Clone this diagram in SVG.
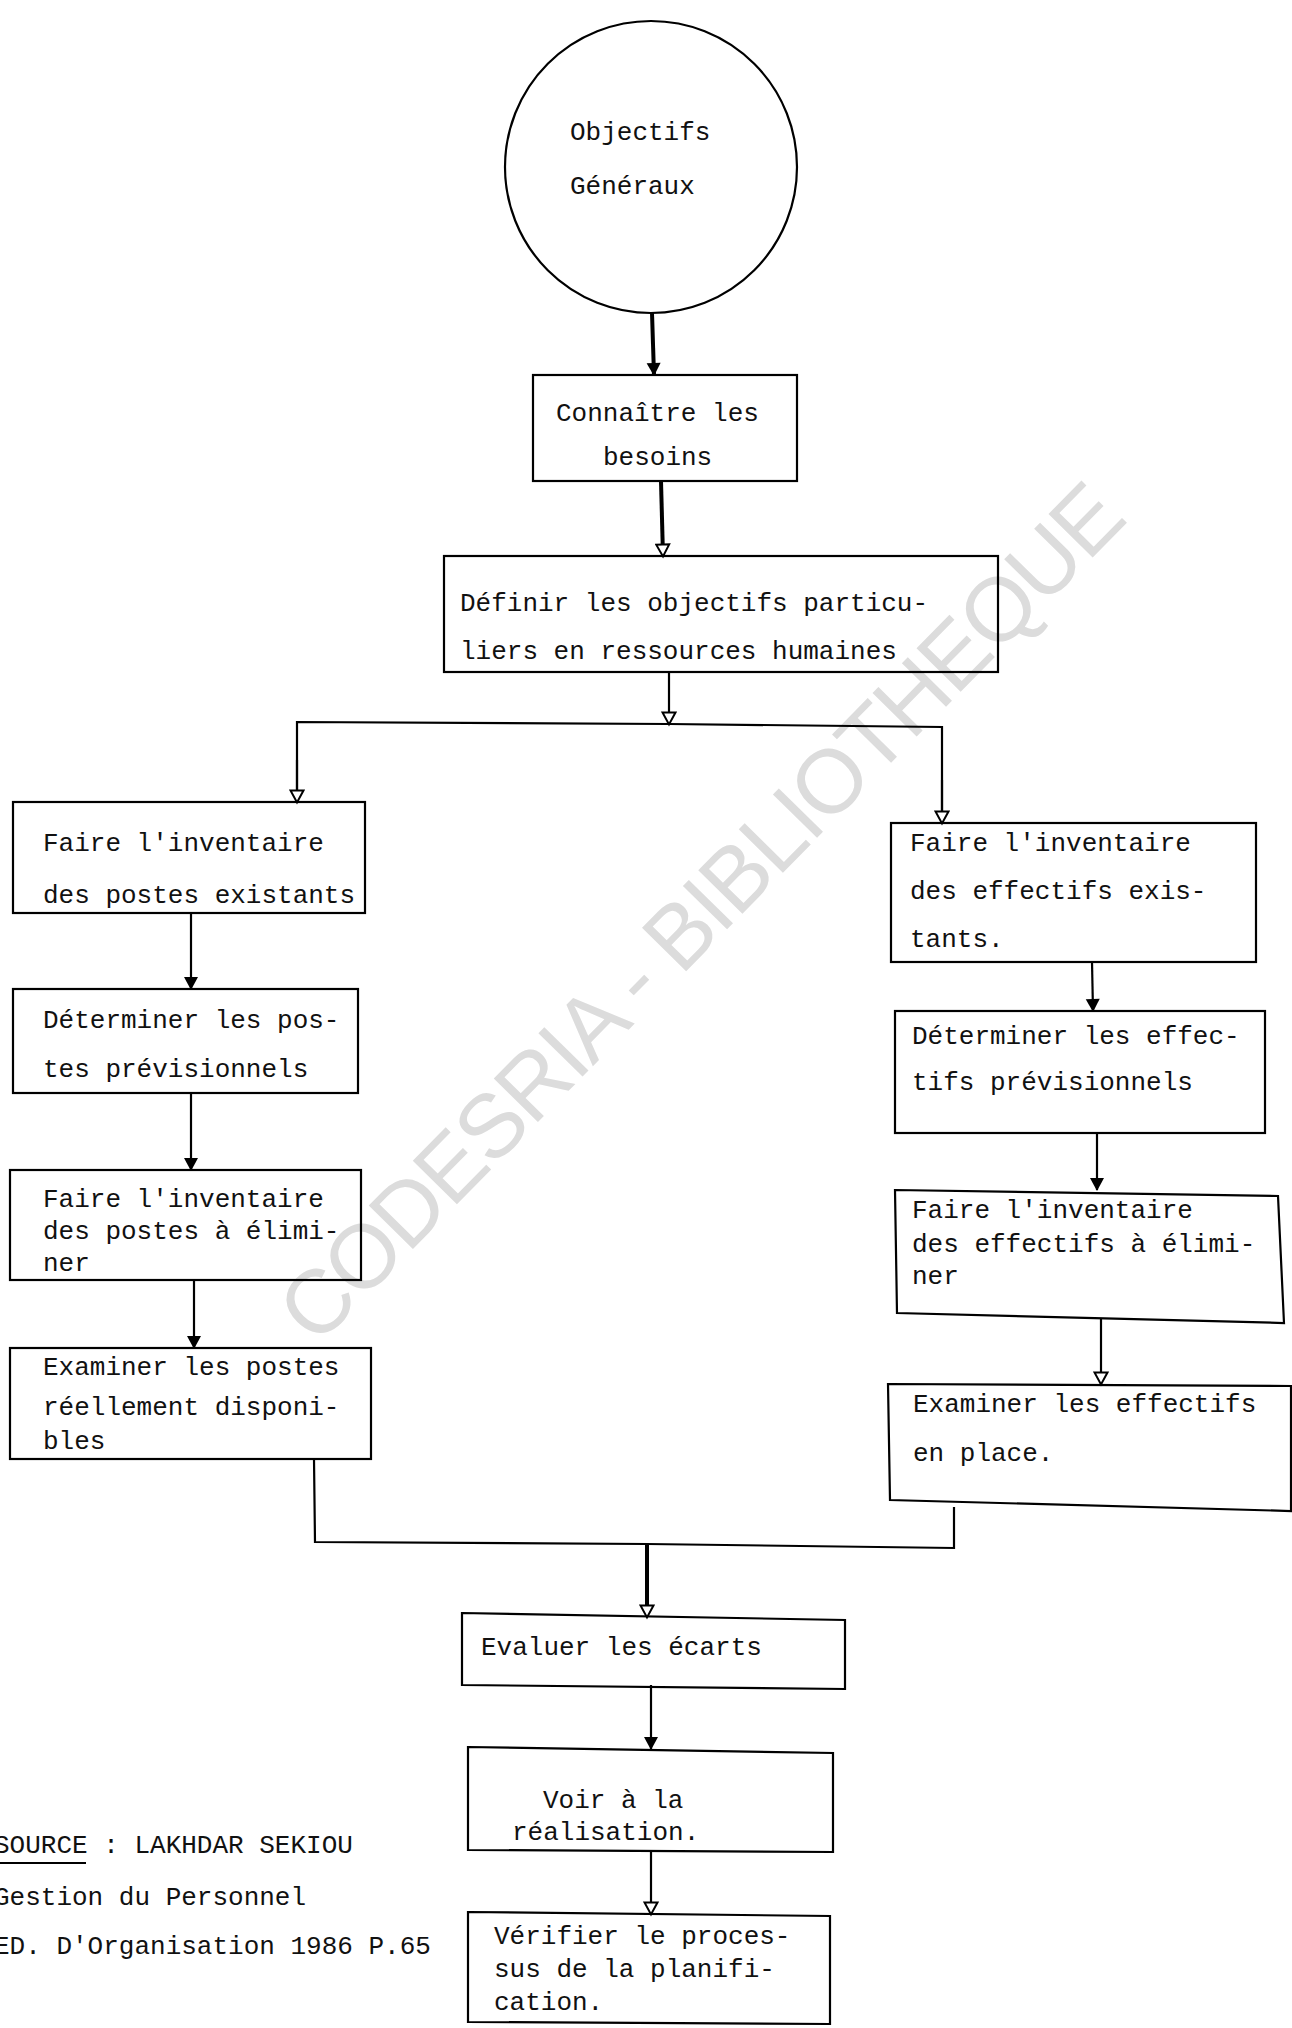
<svg xmlns="http://www.w3.org/2000/svg" width="1292" height="2028" viewBox="0 0 1292 2028">
<style>
.bx{fill:none;stroke:#000;stroke-width:2.2;stroke-linejoin:miter}
.t{font-family:"Liberation Mono","DejaVu Sans Mono",monospace;font-size:26px;fill:#111}
.c{fill:none;stroke:#000;stroke-width:2.2}
.ck{fill:none;stroke:#000;stroke-width:4}
.wm{font-family:"Liberation Sans",Arial,sans-serif;font-size:90px;fill:#dcdcdc}
</style>
<defs>
<marker id="af" markerUnits="userSpaceOnUse" markerWidth="16" markerHeight="16" refX="13" refY="8" orient="auto" viewBox="0 0 16 16">
<path d="M1,1 L14,8 L1,15 z" fill="#000"/>
</marker>
<marker id="ao" markerUnits="userSpaceOnUse" markerWidth="16" markerHeight="16" refX="13" refY="8" orient="auto" viewBox="0 0 16 16">
<path d="M1.5,1.5 L13.5,8 L1.5,14.5 z" fill="#fff" stroke="#000" stroke-width="2"/>
</marker>
</defs>
<rect width="1292" height="2028" fill="#fff"/>
<text class="wm" x="706" y="917" text-anchor="middle" dominant-baseline="middle" transform="rotate(-45.5 706 917)" textLength="1160" lengthAdjust="spacing">CODESRIA - BIBLIOTHEQUE</text>

<g id="connectors">
<line class="ck" x1="652" y1="313" x2="654" y2="375" marker-end="url(#af)"/>
<line class="ck" x1="661" y1="481" x2="663" y2="556" marker-end="url(#ao)"/>
<line class="c" x1="669" y1="672" x2="669" y2="724" marker-end="url(#ao)"/>
<polyline class="c" points="297,802 297,722 669,724 942,727 942,823"/>
<line class="c" x1="297" y1="760" x2="297" y2="802" marker-end="url(#ao)"/>
<line class="c" x1="942" y1="780" x2="942" y2="823" marker-end="url(#ao)"/>
<line class="c" x1="191" y1="913" x2="191" y2="989" marker-end="url(#af)"/>
<line class="c" x1="191" y1="1093" x2="191" y2="1170" marker-end="url(#af)"/>
<line class="c" x1="194" y1="1280" x2="194" y2="1348" marker-end="url(#af)"/>
<line class="c" x1="1092" y1="962" x2="1093" y2="1011" marker-end="url(#af)"/>
<line class="c" x1="1097" y1="1133" x2="1097" y2="1190" marker-end="url(#af)"/>
<line class="c" x1="1101" y1="1318" x2="1101" y2="1384" marker-end="url(#ao)"/>
<polyline class="c" points="314,1459 315,1542 647,1544 954,1548 954,1507"/>
<line class="ck" x1="647" y1="1544" x2="647" y2="1617" marker-end="url(#ao)"/>
<line class="c" x1="651" y1="1685" x2="651" y2="1749" marker-end="url(#af)"/>
<line class="c" x1="651" y1="1852" x2="651" y2="1914" marker-end="url(#ao)"/>
</g>

<g id="n-objectifs">
<circle class="bx" cx="651" cy="167" r="146"/>
<text class="t" x="570" y="140">Objectifs</text>
<text class="t" x="570" y="194">Généraux</text>
</g>

<g id="n-connaitre">
<rect class="bx" x="533" y="375" width="264" height="106"/>
<text class="t" x="556" y="421">Connaître les</text>
<text class="t" x="603" y="465">besoins</text>
</g>

<g id="n-definir">
<rect class="bx" x="444" y="556" width="554" height="116"/>
<text class="t" x="460" y="611">Définir les objectifs particu-</text>
<text class="t" x="460" y="659">liers en ressources humaines</text>
</g>

<g id="n-inv-postes">
<rect class="bx" x="13" y="802" width="352" height="111"/>
<text class="t" x="43" y="851">Faire l'inventaire</text>
<text class="t" x="43" y="903">des postes existants</text>
</g>

<g id="n-det-postes">
<rect class="bx" x="13" y="989" width="345" height="104"/>
<text class="t" x="43" y="1028">Déterminer les pos-</text>
<text class="t" x="43" y="1077">tes prévisionnels</text>
</g>

<g id="n-elim-postes">
<rect class="bx" x="10" y="1170" width="351" height="110"/>
<text class="t" x="43" y="1207">Faire l'inventaire</text>
<text class="t" x="43" y="1239">des postes à élimi-</text>
<text class="t" x="43" y="1271">ner</text>
</g>

<g id="n-exam-postes">
<rect class="bx" x="10" y="1348" width="361" height="111"/>
<text class="t" x="43" y="1375">Examiner les postes</text>
<text class="t" x="43" y="1415">réellement disponi-</text>
<text class="t" x="43" y="1449">bles</text>
</g>

<g id="n-inv-effectifs">
<rect class="bx" x="891" y="823" width="365" height="139"/>
<text class="t" x="910" y="851">Faire l'inventaire</text>
<text class="t" x="910" y="899">des effectifs exis-</text>
<text class="t" x="910" y="947">tants.</text>
</g>

<g id="n-det-effectifs">
<rect class="bx" x="895" y="1011" width="370" height="122"/>
<text class="t" x="912" y="1044">Déterminer les effec-</text>
<text class="t" x="912" y="1090">tifs prévisionnels</text>
</g>

<g id="n-elim-effectifs">
<polygon class="bx" points="895,1190 1278,1196 1284,1323 897,1313"/>
<text class="t" x="912" y="1218">Faire l'inventaire</text>
<text class="t" x="912" y="1252">des effectifs à élimi-</text>
<text class="t" x="912" y="1284">ner</text>
</g>

<g id="n-exam-effectifs">
<polygon class="bx" points="888,1384 1291,1386 1291,1511 890,1500"/>
<text class="t" x="913" y="1412">Examiner les effectifs</text>
<text class="t" x="913" y="1461">en place.</text>
</g>

<g id="n-evaluer">
<polygon class="bx" points="462,1613 845,1620 845,1689 462,1685"/>
<text class="t" x="481" y="1655">Evaluer les écarts</text>
</g>

<g id="n-voir">
<polygon class="bx" points="468,1747 833,1753 833,1852 468,1850"/>
<text class="t" x="543" y="1808">Voir à la</text>
<text class="t" x="512" y="1840">réalisation.</text>
</g>

<g id="n-verifier">
<polygon class="bx" points="468,1912 830,1916 830,2024 468,2022"/>
<text class="t" x="494" y="1944">Vérifier le proces-</text>
<text class="t" x="494" y="1977">sus de la planifi-</text>
<text class="t" x="494" y="2010">cation.</text>
</g>

<g id="source">
<text class="t" x="-6" y="1853">SOURCE : LAKHDAR SEKIOU</text>
<line x1="0" y1="1863" x2="86" y2="1863" stroke="#000" stroke-width="2"/>
<text class="t" x="-6" y="1905">Gestion du Personnel</text>
<text class="t" x="-6" y="1954">ED. D'Organisation 1986 P.65</text>
</g>
</svg>
